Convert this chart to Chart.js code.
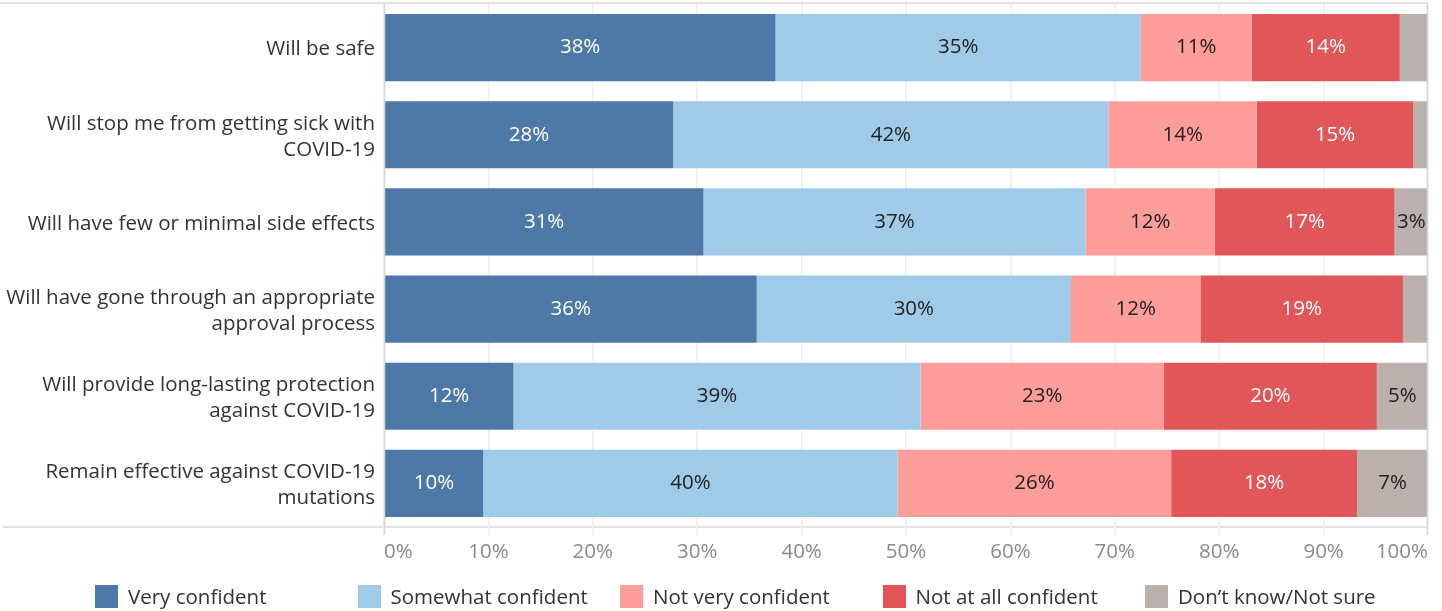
<!DOCTYPE html>
<html>
<head>
<meta charset="utf-8">
<script src="https://cdn.jsdelivr.net/npm/chart.js@4"></script>
<style>
  html, body { margin: 0; padding: 0; background: #fff; }
  #wrap { position: relative; width: 1442px; height: 611px; }
  canvas { display: block; }
  #legend { position: absolute; left: 0; top: 584px; width: 1442px; height: 26px; font-family: "Open Sans", sans-serif; font-size: 20.5px; color: #333; }
  .li { position: absolute; top: 0; height: 24px; display: flex; align-items: center; white-space: nowrap; }
  .sw { width: 23px; height: 23px; margin-right: 10px; flex: none; }
</style>
</head>
<body>
<div id="wrap">
  <canvas id="c" width="1442" height="611"></canvas>
  <div id="legend"></div>
</div>
<script>
const categories = [
  "Will be safe",
  ["Will stop me from getting sick with", "COVID-19"],
  "Will have few or minimal side effects",
  ["Will have gone through an appropriate", "approval process"],
  ["Will provide long-lasting protection", "against COVID-19"],
  ["Remain effective against COVID-19", "mutations"]
];
const seriesNames = ["Very confident", "Somewhat confident", "Not very confident", "Not at all confident", "Don\u2019t know/Not sure"];
const veryConfident     = [37.5, 27.7, 30.6, 35.7, 12.4,  9.5];
const somewhatConfident = [35.0, 41.7, 36.6, 30.1, 39.0, 39.7];
const notVeryConfident  = [10.6, 14.2, 12.4, 12.4, 23.3, 26.2];
const notAtAllConfident = [14.2, 15.0, 17.2, 19.4, 20.4, 17.8];
const dontKnow          = [ 2.7,  1.4,  3.2,  2.4,  4.9,  6.8];
const xTicks = [0, 10, 20, 30, 40, 50, 60, 70, 80, 90, 100];

const colors = ["#4e79a7", "#a0cbe8", "#ff9d9a", "#e15759", "#bab0ac"];
const labelColors = ["#ffffff", "#222222", "#222222", "#ffffff", "#222222"];
const allSeries = [veryConfident, somewhatConfident, notVeryConfident, notAtAllConfident, dontKnow];
const FONT = "'Open Sans', sans-serif";

const datasets = allSeries.map((d, i) => ({
  label: seriesNames[i],
  data: d,
  backgroundColor: colors[i],
  borderWidth: 0,
  barPercentage: 0.77,
  categoryPercentage: 1.0
}));

const framePlugin = {
  id: 'frame',
  beforeDraw(chart) {
    const ctx = chart.ctx, a = chart.chartArea;
    ctx.save();
    ctx.strokeStyle = '#e3e3e3';
    ctx.lineWidth = 2;
    ctx.beginPath();
    ctx.moveTo(0, a.top - 1); ctx.lineTo(a.right, a.top - 1);
    ctx.stroke();
    ctx.beginPath();
    ctx.moveTo(3, a.bottom); ctx.lineTo(a.right, a.bottom);
    ctx.stroke();
    ctx.restore();
  },
  afterDraw(chart) {
    const ctx = chart.ctx, a = chart.chartArea;
    ctx.save();
    ctx.strokeStyle = '#d6d6d6';
    ctx.lineWidth = 1.5;
    ctx.beginPath();
    ctx.moveTo(a.left + 0.5, a.top - 1); ctx.lineTo(a.left + 0.5, a.bottom + 8);
    ctx.moveTo(a.right - 0.5, a.top - 1); ctx.lineTo(a.right - 0.5, a.bottom + 8);
    ctx.stroke();
    ctx.restore();
  }
};

const valueLabels = {
  id: 'valueLabels',
  afterDatasetsDraw(chart) {
    const ctx = chart.ctx;
    ctx.save();
    ctx.font = "20.5px " + FONT;
    ctx.textAlign = 'center';
    ctx.textBaseline = 'middle';
    chart.data.datasets.forEach((ds, i) => {
      const meta = chart.getDatasetMeta(i);
      meta.data.forEach((el, j) => {
        const v = ds.data[j];
        if (v < 3) return;
        ctx.fillStyle = labelColors[i];
        ctx.fillText(Math.round(v) + '%', (el.x + el.base) / 2, el.y);
      });
    });
    ctx.restore();
  }
};

new Chart(document.getElementById('c'), {
  type: 'bar',
  data: { labels: categories, datasets },
  options: {
    indexAxis: 'y',
    responsive: false,
    animation: false,
    layout: { padding: { left: 0, right: 14, top: 4, bottom: 0 } },
    plugins: { legend: { display: false }, tooltip: { enabled: false } },
    scales: {
      x: {
        stacked: true,
        min: 0, max: 100,
        afterBuildTicks: s => { s.ticks = xTicks.map(v => ({ value: v })); },
        afterFit: s => { s.height = 611 - 527; s.paddingLeft = 0; s.paddingRight = 0; },
        grid: { color: '#efefef', lineWidth: 1.5, tickLength: 8, drawTicks: true, tickColor: '#efefef' },
        border: { display: false },
        ticks: {
          align: 'inner',
          padding: 5,
          color: '#8a8a8a',
          font: { family: FONT, size: 20.5 },
          callback: v => v + '%'
        }
      },
      y: {
        stacked: true,
        afterFit: s => { s.width = 384; s.paddingTop = 0; s.paddingBottom = 0; },
        grid: { display: false },
        border: { display: false },
        ticks: {
          padding: 1,
          labelOffset: 2,
          color: '#333',
          font: { family: FONT, size: 20.5, lineHeight: 1.27 }
        }
      }
    }
  },
  plugins: [framePlugin, valueLabels]
});

const lg = document.getElementById('legend');
seriesNames.forEach((n, i) => {
  const d = document.createElement('div');
  d.className = 'li';
  d.style.left = (95 + i * 262.5) + 'px';
  d.innerHTML = '<span class="sw" style="background:' + colors[i] + '"></span><span>' + n + '</span>';
  lg.appendChild(d);
});
</script>
</body>
</html>
